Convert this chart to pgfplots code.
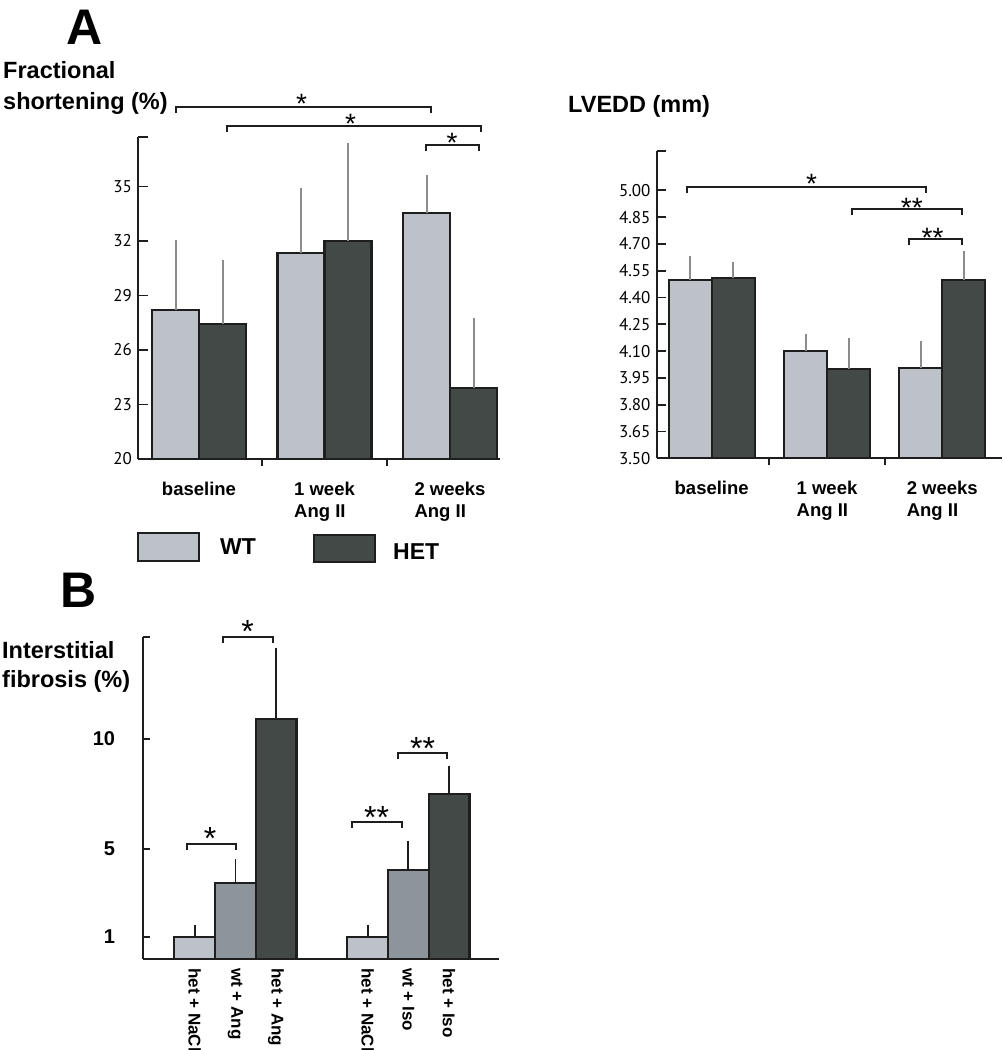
\documentclass[border=0pt]{standalone}
\usepackage{pgfplots}
\pgfplotsset{compat=1.18}
\usepackage{fontspec}
\setmainfont{Liberation Sans}
\newfontfamily\ptsans{PT Sans}
\definecolor{wtc}{HTML}{BDC1C8}
\definecolor{hetc}{HTML}{424947}
\definecolor{midc}{HTML}{8E959A}
\definecolor{edgec}{HTML}{1E1E1E}
\definecolor{errc}{HTML}{8C8C8C}
\newcommand{\brk}[3]{\draw[edgec,line width=1.8pt] ([yshift=-6pt]axis cs:#1,#3) -- (axis cs:#1,#3) -- (axis cs:#2,#3) -- ([yshift=-6pt]axis cs:#2,#3);}
\newcommand{\sig}[4]{\node[anchor=north,inner sep=0pt,font=\fontsize{#3}{#3}\selectfont] at (axis cs:#1,#2) {#4};}
\pgfplotsset{
  base/.style={scale only axis, anchor=south west,
    axis x line*=bottom, axis y line*=left,
    axis line style={edgec,line width=2.2pt,-},
    tick style={edgec,line width=1.8pt},
    tick align=inside, major tick length=10pt, minor tick length=7pt,
    major x tick style={draw=none},
    clip=false,
    /pgf/number format/assume math mode=true,
    yticklabel style={anchor=east, inner xsep=6pt, inner ysep=0pt},
  },
  barA/.style={fill=#1, draw=edgec, line width=2.2pt,
    error bars/y dir=plus, error bars/y explicit,
    error bars/error bar style={errc,line width=2pt},
    error bars/error mark options={errc,line width=2pt,mark size=4pt}},
  barB/.style={fill=#1, draw=edgec, line width=2.2pt, bar shift=0pt,
    error bars/y dir=plus, error bars/y explicit,
    error bars/error bar style={edgec,line width=1.8pt},
    error bars/error mark options={edgec,line width=1.8pt,mark size=5pt}},
}
\begin{document}
\begin{tikzpicture}[x=1pt,y=1pt]
\useasboundingbox (0pt,0pt) rectangle (1002pt,-1050pt);

% ---------- Panel A, fractional shortening ----------
\begin{axis}[base, at={(138pt,-459pt)}, width=362pt, height=322pt,
  xmin=-0.486, xmax=2.398, ymin=20, ymax=37.72,
  ytick={20,23,26,29,32,35}, extra y ticks={37.72}, extra y tick labels={},
  yticklabel style={font=\ptsans\fontsize{17}{17}\selectfont},
  xtick={0,1,2}, xticklabels={baseline,{1 week\\Ang II},{2 weeks\\Ang II}},
  xticklabel style={font=\bfseries\fontsize{18.5}{22}\selectfont, align=left, anchor=north, inner ysep=13pt, inner xsep=0pt},
  minor xtick={0.5,1.5},
  ybar=0pt, bar width=47pt,
]
\addplot[barA=wtc] coordinates {(0,28.20) +- (0,3.65) (1,31.32) +- (0,3.38) (2,33.52) +- (0,1.89)};
\addplot[barA=hetc] coordinates {(0,27.43) +- (0,3.32) (1,32.00) +- (0,5.19) (2,23.89) +- (0,3.67)};
\brk{-0.183}{1.849}{39.37}
\brk{0.223}{2.247}{38.33}
\brk{1.809}{2.231}{37.28}
\sig{0.818}{40.07}{28}{*}
\sig{1.207}{38.97}{28}{*}
\sig{2.016}{37.96}{28}{*}
\end{axis}

% ---------- Panel A, LVEDD ----------
\begin{axis}[base, at={(656.7pt,-458.3pt)}, width=345pt, height=307.3pt,
  xmin=-0.477, xmax=2.515, ymin=3.5, ymax=5.22,
  ytick={3.50,3.65,3.80,3.95,4.10,4.25,4.40,4.55,4.70,4.85,5.00},
  extra y ticks={5.22}, extra y tick labels={},
  major tick length=9pt,
  yticklabel style={font=\ptsans\fontsize{17}{17}\selectfont, /pgf/number format/.cd, fixed, fixed zerofill, precision=2},
  xtick={0,1,2}, xticklabels={baseline,{1 week\\Ang II},{2 weeks\\Ang II}},
  xticklabel style={font=\bfseries\fontsize{18.5}{22}\selectfont, align=left, anchor=north, inner ysep=14pt, inner xsep=0pt},
  minor xtick={0.5,1.5},
  ybar=0pt, bar width=43pt,
]
\addplot[barA=wtc] coordinates {(0,4.500) +- (0,0.108) (1,4.100) +- (0,0.075) (2,4.005) +- (0,0.129)};
\addplot[barA=hetc] coordinates {(0,4.507) +- (0,0.069) (1,4.000) +- (0,0.149) (2,4.500) +- (0,0.140)};
\brk{-0.217}{1.856}{5.020}
\brk{1.219}{2.173}{4.897}
\brk{1.711}{2.173}{4.729}
\sig{0.867}{5.09}{28}{*}
\sig{1.735}{4.955}{28}{**}
\sig{1.915}{4.79}{28}{**}
\end{axis}

% ---------- titles, legend ----------
\node[anchor=north west,inner sep=0pt,font=\bfseries\fontsize{50}{50}\selectfont] at (66.7pt,-10pt) {A};
\node[anchor=north west,inner sep=0pt,align=left,font=\bfseries\fontsize{23.5}{31}\selectfont] at (3pt,-61.7pt) {Fractional\\shortening (\%)};
\node[anchor=north west,inner sep=0pt,font=\bfseries\fontsize{23.5}{28}\selectfont] at (568pt,-95pt) {LVEDD (mm)};
\draw[edgec,line width=2pt,fill=wtc] (137.7pt,-533.3pt) rectangle (199pt,-560.7pt);
\node[anchor=west,inner sep=0pt,font=\bfseries\fontsize{23}{23}\selectfont] at (220pt,-547pt) {WT};
\draw[edgec,line width=2pt,fill=hetc] (313.7pt,-535pt) rectangle (375.3pt,-562.3pt);
\node[anchor=west,inner sep=0pt,font=\bfseries\fontsize{23}{23}\selectfont] at (393pt,-551.7pt) {HET};
\node[anchor=north west,inner sep=0pt,font=\bfseries\fontsize{50}{50}\selectfont] at (60pt,-573.3pt) {B};
\node[anchor=north west,inner sep=0pt,align=left,font=\bfseries\fontsize{23.5}{29}\selectfont] at (2pt,-641.7pt) {Interstitial\\fibrosis (\%)};

% ---------- Panel B ----------
\begin{axis}[base, at={(143.3pt,-959pt)}, width=355.7pt, height=322.3pt,
  xmin=-1.263, xmax=7.477, ymin=0, ymax=14.65,
  ytick={1,5,10}, extra y ticks={14.65}, extra y tick labels={},
  major tick length=7pt,
  yticklabel style={font=\bfseries\fontsize{20}{20}\selectfont, inner xsep=28pt},
  xtick={0,1,2,4.25,5.25,6.25},
  xticklabels={het + NaCl, wt + Ang, het + Ang, het + NaCl, wt + Iso, het + Iso},
  xticklabel style={font=\bfseries\fontsize{17}{17}\selectfont, rotate=-90, anchor=west, inner xsep=2pt, inner ysep=0pt},
  ybar, bar width=40.7pt,
]
\addplot[barB=wtc] coordinates {(0,1.00) +- (0,0.32) (4.25,1.00) +- (0,0.32)};
\addplot[barB=midc] coordinates {(1,3.44) +- (0,0.86) (5.25,4.05) +- (0,1.10)};
\addplot[barB=hetc] coordinates {(2,10.90) +- (0,3.02) (6.25,7.49) +- (0,1.07)};
\brk{-0.197}{1.015}{5.214}
\brk{0.688}{1.916}{14.65}
\brk{3.872}{5.086}{6.24}
\brk{4.988}{6.206}{9.377}
\sig{0.378}{6.01}{32}{*}
\sig{1.297}{15.41}{32}{*}
\sig{4.47}{6.95}{32}{**}
\sig{5.60}{10.10}{32}{**}
\end{axis}
\end{tikzpicture}
\end{document}
